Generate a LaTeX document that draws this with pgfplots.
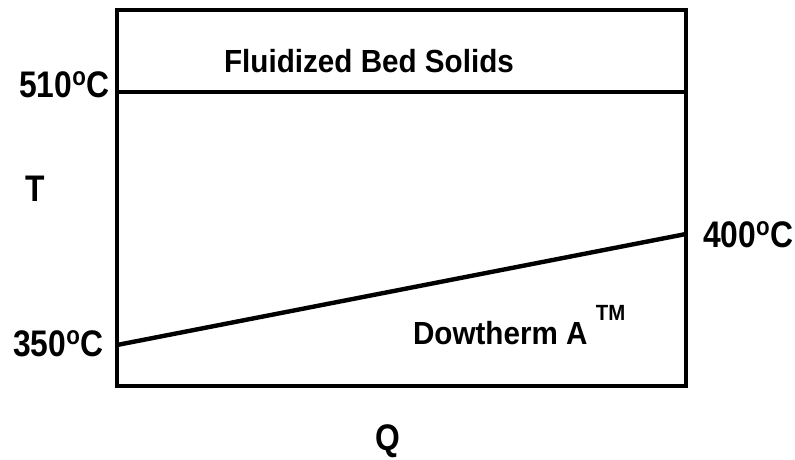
\documentclass[border=0pt]{standalone}
\usepackage{fontspec}
\setmainfont{Liberation Sans Bold}[FakeStretch=0.926]
\newfontfamily\lab{Liberation Sans Bold}[FakeStretch=0.86]
\usepackage{pgfplots}
\pgfplotsset{compat=1.18}
\begin{document}
\begin{tikzpicture}
\begin{axis}[
  scale only axis, width=284.5pt, height=188pt,
  xmin=117, xmax=686, ymin=-386, ymax=-10,
  axis line style={line width=2pt},
  ticks=none, clip=false,
  every node/.style={inner sep=0pt},
]
\addplot[line width=2pt, no marks] coordinates {(117,-92) (686,-92)};
\addplot[line width=2.2pt, no marks] coordinates {(117,-345) (686,-234)};
\node[anchor=base east, font=\lab\fontsize{18.5}{21}\selectfont] at (axis cs:117,-98) {510\textsuperscript{o}C};
\node[anchor=base east, font=\lab\fontsize{18.5}{21}\selectfont] at (axis cs:111,-357) {350\textsuperscript{o}C};
\node[anchor=base west, font=\lab\fontsize{18.5}{21}\selectfont] at (axis cs:696,-248) {400\textsuperscript{o}C};
\node[anchor=base, font=\lab\fontsize{18.5}{21}\selectfont] at (axis cs:35,-202) {T};
\node[anchor=base, font=\lab\fontsize{18.5}{21}\selectfont] at (axis cs:388,-450) {Q};
\node[anchor=base, font=\fontsize{16}{19}\selectfont] at (axis cs:369,-73) {Fluidized Bed Solids};
\node[anchor=base west, font=\fontsize{16}{19}\selectfont] at (axis cs:406,-345) {Dowtherm A \raisebox{12pt}{\fontsize{11}{12}\selectfont TM}};
\end{axis}
\pgfresetboundingbox
\path (current axis.south west) ++(-58.5pt,-36.5pt) rectangle ++(397.5pt,229.5pt);
\end{tikzpicture}
\end{document}
